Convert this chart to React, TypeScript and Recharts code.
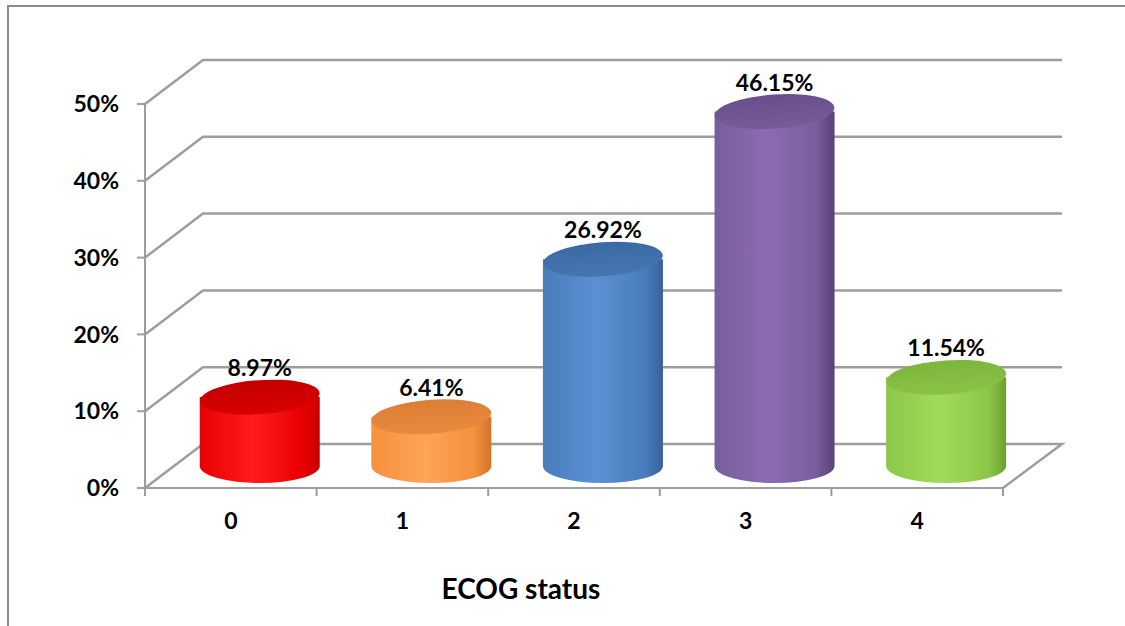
import React from 'react';
import { BarChart, Bar, XAxis, YAxis, CartesianGrid, LabelList } from 'recharts';

const categories = ['0', '1', '2', '3', '4'];
const shares = [0.0897, 0.0641, 0.2692, 0.4615, 0.1154];
const shareLabels = ['8.97%', '6.41%', '26.92%', '46.15%', '11.54%'];
const yTicks = [0, 0.1, 0.2, 0.3, 0.4, 0.5];

const data = categories.map((status, i) => ({ status, share: shares[i], label: shareLabels[i] }));

// cylinder fills: edge / highlight / top face
const FILLS = [
  { edge: '#c80000', light: '#ff1c1c', mid: '#e80000', top: '#c40000', topLight: '#d80000' },
  { edge: '#d2742c', light: '#ffa455', mid: '#f5913f', top: '#dc7e36', topLight: '#eb8a3e' },
  { edge: '#36629a', light: '#5b90d2', mid: '#4a7cbb', top: '#3b69a2', topLight: '#4676b2' },
  { edge: '#564274', light: '#8b6cb1', mid: '#785d9c', top: '#684f8b', topLight: '#755b98' },
  { edge: '#6c9f31', light: '#a0dd59', mid: '#8cc748', top: '#7db53d', topLight: '#8ac446' },
];

const DEPTH_X = 58;
const DEPTH_Y = 44;
const RY = 17;
const GRID = '#9d9d9d';
const FONT = { fontFamily: 'Lato, "Open Sans", sans-serif', fontWeight: 700, fontSize: 23, fill: '#000' };

function gridLine(props: any) {
  const { x1, y1, x2, y, height } = props;
  const bx = x2 + DEPTH_X + 1;
  let pts = `${x1},${y1} ${x1 + DEPTH_X},${y1 - DEPTH_Y} ${bx},${y1 - DEPTH_Y}`;
  if (Math.abs(y1 - (y + height)) < 1) pts += ` ${x2},${y1}`;
  return <polyline key={props.key ?? `g-${y1}`} points={pts} fill="none" stroke={GRID} strokeWidth={2.5} />;
}

function Cylinder(props: any) {
  const { x, y, width, height } = props;
  const i = props.index ?? categories.indexOf(props.payload?.status);
  if (width == null || height == null) return null;
  const cx = x + width / 2 + DEPTH_X / 2;
  const rx = width / 2;
  const top = y - DEPTH_Y / 2;
  const bottom = y + height - DEPTH_Y / 2;
  return (
    <g>
      <path
        d={`M${cx - rx},${top} L${cx - rx},${bottom} A${rx},${RY} 0 0 0 ${cx + rx},${bottom} L${cx + rx},${top} Z`}
        fill={`url(#body-${i})`}
      />
      <ellipse cx={cx} cy={top} rx={rx} ry={RY} fill={`url(#top-${i})`} transform={`rotate(-4 ${cx} ${top})`} />
    </g>
  );
}

function ValueLabel(props: any) {
  const vb = props.viewBox || props;
  const { x, y, width } = vb;
  const cx = x + width / 2 + DEPTH_X / 2;
  return (
    <text x={cx} y={y - DEPTH_Y / 2 - RY - 4} textAnchor="middle" style={FONT}>
      {props.value}
    </text>
  );
}

function CategoryTick(props: any) {
  const { x, y, payload } = props;
  const half = payload?.offset || 858 / categories.length / 2;
  const last = payload?.index === categories.length - 1 || payload?.value === categories[categories.length - 1];
  return (
    <g>
      <line x1={x - half} y1={y - 8} x2={x - half} y2={y} stroke={GRID} strokeWidth={2} />
      {last && <line x1={x + half} y1={y - 8} x2={x + half} y2={y} stroke={GRID} strokeWidth={2} />}
      <text x={x} y={y + 33} textAnchor="middle" style={FONT}>
        {payload.value}
      </text>
    </g>
  );
}

function AxisTitle(props: any) {
  const { x, y, width } = props.viewBox;
  return (
    <text x={x + width / 2 - 53} y={y + 111} textAnchor="middle" style={{ ...FONT, fontSize: 28 }}>
      ECOG status
    </text>
  );
}

export default function App() {
  return (
    <div style={{ position: 'absolute', left: 0, top: 0, width: 1125, height: 626, background: '#fff', overflow: 'hidden' }}>
      <BarChart
        width={1125}
        height={626}
        data={data}
        margin={{ top: 104, right: 122, bottom: 0, left: 0 }}
        barCategoryGap="15%"
      >
        <defs>
          {FILLS.map((f, i) => (
            <linearGradient key={`b${i}`} id={`body-${i}`} x1="0" y1="0" x2="1" y2="0">
              <stop offset="0%" stopColor={f.mid} />
              <stop offset="45%" stopColor={f.light} />
              <stop offset="85%" stopColor={f.mid} />
              <stop offset="100%" stopColor={f.edge} />
            </linearGradient>
          ))}
          {FILLS.map((f, i) => (
            <linearGradient key={`t${i}`} id={`top-${i}`} x1="0" y1="0" x2="0" y2="1">
              <stop offset="0%" stopColor={f.top} />
              <stop offset="100%" stopColor={f.topLight} />
            </linearGradient>
          ))}
        </defs>
        <polyline points="8,626 8,6 1125,6" fill="none" stroke="#8a8a8a" strokeWidth={2} />
        <CartesianGrid vertical={false} horizontal={gridLine} />
        <XAxis
          dataKey="status"
          height={138}
          tickSize={8}
          tickMargin={0}
          tickLine={false}
          tick={<CategoryTick />}
          axisLine={{ stroke: GRID, strokeWidth: 2 }}
          label={<AxisTitle />}
        />
        <YAxis
          domain={[0, 0.5]}
          ticks={yTicks}
          width={145}
          tickSize={8}
          tickMargin={18}
          tickFormatter={(v: number) => `${Math.round(v * 100)}%`}
          tick={FONT}
          tickLine={{ stroke: GRID, strokeWidth: 2 }}
          axisLine={{ stroke: GRID, strokeWidth: 2 }}
        />
        <Bar dataKey="share" shape={<Cylinder />} isAnimationActive={false}>
          <LabelList dataKey="label" content={<ValueLabel />} />
        </Bar>
      </BarChart>
    </div>
  );
}
